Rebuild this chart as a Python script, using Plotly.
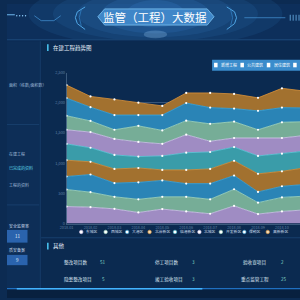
import plotly.graph_objects as go

# ---------------- data ----------------
months = ["2018.01", "2018.02", "2018.03", "2018.04", "2018.05", "2018.06",
          "2018.07", "2018.08", "2018.09", "2018.10", "2018.11"]
series_names = ["东城区", "西城区", "大港区", "北岸新区", "临港新区",
                "北城区", "开发新区", "保税区", "高新新区"]
s1 = [281, 271, 243, 183, 239, 200, 162, 292, 157, 200, 227]
s2 = [282, 248, 200, 218, 204, 243, 239, 276, 189, 233, 227]
s3 = [216, 293, 227, 281, 271, 218, 260, 227, 178, 184, 195]
s4 = [270, 210, 234, 238, 174, 227, 243, 244, 299, 248, 276]
s5 = [270, 233, 232, 189, 232, 285, 281, 227, 297, 292, 276]
s6 = [234, 259, 265, 243, 200, 299, 178, 151, 297, 260, 260]
s7 = [232, 185, 152, 266, 222, 232, 288, 271, 136, 260, 227]
s8 = [293, 228, 244, 179, 255, 292, 269, 216, 313, 243, 227]
s9 = [215, 178, 259, 204, 151, 167, 243, 243, 216, 320, 276]
all_series = [s1, s2, s3, s4, s5, s6, s7, s8, s9]
y_ticks = [0, 500, 1000, 1500, 2000, 2500]
top_legend = ["新增工程", "公共建筑", "居住建筑"]
stat_labels = ["整改项目数", "停工项目数", "验收查项目", "隐患整改项目", "竣工验收项目", "重点监管工程"]
stat_values = ["51", "3", "2", "5", "3", "25"]

# ---------------- styles ----------------
FONT = "Noto Sans CJK SC"
fills = ["#9f8cc3", "#76ad97", "#2a84b6", "#a2712f", "#3a9ca9",
         "#9f8cc3", "#76ad97", "#2a84b6", "#a2712f"]
lines = ["#d6c8ee", "#a6dcc2", "#3ca8de", "#dc933a", "#5ccfdc",
         "#d6c8ee", "#a6dcc2", "#3ca8de", "#dc933a"]

W = H = 300


def px(x):
    return x / W


def py(y):
    return 1 - y / H


fig = go.Figure()
for name, vals, fc, lc in zip(series_names, all_series, fills, lines):
    fig.add_trace(go.Scatter(
        x=months, y=vals, name=name, stackgroup="one", mode="lines+markers",
        line=dict(color=lc, width=0.8), fillcolor=fc,
        marker=dict(color="white", size=2.2), showlegend=False,
        hoverinfo="skip"))

shapes = []
annotations = []


def rect(x0, y0, x1, y1, fill, line=None, lw=0, opacity=1.0, layer="below"):
    shapes.append(dict(type="rect", xref="paper", yref="paper",
                       x0=px(x0), x1=px(x1), y0=py(y1), y1=py(y0),
                       fillcolor=fill, line=dict(color=line or fill, width=lw),
                       opacity=opacity, layer=layer))


def hline(x0, x1, y, color, w=1, layer="below"):
    shapes.append(dict(type="line", xref="paper", yref="paper", x0=px(x0), x1=px(x1),
                       y0=py(y), y1=py(y), line=dict(color=color, width=w), layer=layer))


def vline(x, y0, y1, color, w=1, layer="below"):
    shapes.append(dict(type="line", xref="paper", yref="paper", x0=px(x), x1=px(x),
                       y0=py(y0), y1=py(y1), line=dict(color=color, width=w), layer=layer))


def path(pts, fill=None, color="rgba(0,0,0,0)", w=1, closed=True, opacity=1.0, layer="below"):
    s = "M " + " L ".join(f"{px(x):.5f},{py(y):.5f}" for x, y in pts)
    if closed:
        s += " Z"
    shapes.append(dict(type="path", xref="paper", yref="paper", path=s,
                       fillcolor=fill if fill else "rgba(0,0,0,0)",
                       line=dict(color=color, width=w), opacity=opacity, layer=layer))


def ellipse(cx, cy, rx, ry, fill, opacity=1.0, layer="below"):
    shapes.append(dict(type="circle", xref="paper", yref="paper",
                       x0=px(cx - rx), x1=px(cx + rx), y0=py(cy + ry), y1=py(cy - ry),
                       fillcolor=fill, line=dict(width=0), opacity=opacity, layer=layer))


def text(x, y, s, size=5, color="#d8e4f0", xanchor="left"):
    annotations.append(dict(xref="paper", yref="paper", x=px(x), y=py(y), text=s,
                            showarrow=False, xanchor=xanchor, yanchor="middle",
                            font=dict(family=FONT, size=size, color=color)))


# ---- background panels ----
rect(0, 0, 300, 36, "#0d2f5b")
for rx, ry, op in [(130, 34, 0.10), (105, 28, 0.10), (80, 24, 0.12), (55, 20, 0.14), (30, 14, 0.16)]:
    ellipse(152, 10, rx, ry, "#3f8fe0", opacity=op)
ellipse(152, 31, 12, 4, "#a8d8ff", opacity=0.25)
rect(0, 36, 300, 300, "#0c2b52")
rect(0, 38, 33, 290, "#0d2e57")
rect(35, 38, 300, 237, "#0b2a50")
rect(35, 240, 300, 290, "#0b2a50")
rect(0, 291, 300, 300, "#08203f")
hline(0, 300, 36.5, "#1c4a7c", 1)
vline(34, 38, 290, "#173e6b", 1)
hline(0, 33, 123, "#173e6b", 1)
hline(0, 33, 205, "#173e6b", 1)
hline(35, 300, 238.5, "#173e6b", 1)
hline(0, 300, 290.5, "#1f6fc0", 1.2)
hline(10, 200, 290.5, "#43b4ff", 1.5)

# ---- header decorations ----
path([(93, 13), (100, 5), (205, 5), (212, 13), (205, 21.5), (100, 21.5)],
     fill="#3f86c8", color="#7cc4f4", w=0.8)
path([(80, 3), (72, 8), (70, 14), (72, 20), (80, 26)], color="#4fa6e6", w=1, closed=False)
path([(76, 6), (74, 14), (76, 22)], color="#2f7cc0", w=0.8, closed=False)
path([(225, 3), (233, 8), (235, 14), (233, 20), (225, 26)], color="#4fa6e6", w=1, closed=False)
path([(229, 6), (231, 14), (229, 22)], color="#2f7cc0", w=0.8, closed=False)
path([(0, 11), (8, 11)], color="#6fb8ee", w=1, closed=False)
path([(28, 12), (35, 17), (48, 17), (55, 12)], color="#3f8ccc", w=0.8, closed=False)
path([(243, 14), (285, 14)], color="#3f8ccc", w=0.8, closed=False)
for x in [10, 13, 16, 19]:
    ellipse(x, 12, 0.7, 0.7, "#8fd0ff")
for x in [290, 293, 296, 299]:
    vline(x, 11, 17, "#6fb8ee", 0.8)
text(152, 13.5, "监管（工程）大数据", size=11.5, color="#ffffff", xanchor="center")

# ---- main panel titles ----
rect(41, 41, 42.6, 48, "#49c4f0")
text(45, 44.8, "在建工程趋势图", size=5.5, color="#e6f0fa")
rect(210, 57, 300, 68, "#3a8ccc", layer="above")
for i in range(4):
    x0 = 212 + i * 27
    rect(x0, 60, x0 + 3.6, 64.6, "#ffffff", layer="above")
for i, lab in enumerate(top_legend):
    x0 = 212 + i * 27
    text(x0 + 5, 62.3, lab, size=4, color="#ffffff")

# ---- bottom legend ----
leg_x = [76, 101, 123, 146, 172, 197, 219, 243, 267]
for i, (name, lc) in enumerate(zip(series_names, lines)):
    cx = leg_x[i]
    shapes.append(dict(type="circle", xref="paper", yref="paper",
                       x0=px(cx - 1.8), x1=px(cx + 1.8), y0=py(232.6 + 1.8), y1=py(232.6 - 1.8),
                       fillcolor="#ffffff" if i not in (3, 8) else "#f6dcb4",
                       line=dict(color=lc, width=0.6)))
    text(cx + 3, 232.6, name, size=3.8, color="#c8d8ea")

# ---- left panel ----
text(0, 82.7, "面积（栋数/面积数）", size=4, color="#9db8d6")
text(0, 152.7, "在建工程", size=4, color="#9db8d6")
text(0, 167.5, "已完成的资料", size=4, color="#5fd3e8")
text(0, 185, "工程的资料", size=4, color="#9db8d6")
text(0.5, 226.5, "安全监督率", size=4, color="#c8d8ea")
rect(0, 230.5, 21, 243.5, "#2a63ad")
text(10.5, 237, "11", size=4.5, color="#e6f0fa", xanchor="center")
text(0.5, 251.5, "质安备案", size=4, color="#c8d8ea")
rect(0, 256, 21, 266.5, "#2a63ad")
text(10.5, 261.3, "9", size=4.5, color="#e6f0fa", xanchor="center")

# ---- bottom "其他" panel ----
rect(41, 243.5, 42.6, 250.5, "#49c4f0")
text(45, 247, "其他", size=5.5, color="#e6f0fa")
stat_pos = [(56.5, 98, 263.3), (149, 190.5, 263.3), (240, 282.5, 263.3),
            (56.5, 99, 280.7), (149, 190.5, 280.7), (238, 284, 280.7)]
for (lx, vx, yy), lab, val in zip(stat_pos, stat_labels, stat_values):
    text(lx, yy, lab, size=4.6, color="#dbe6f2")
    text(vx, yy, val, size=4.6, color="#7fd4c0", xanchor="center")

fig.update_layout(
    width=W, height=H, margin=dict(l=0, r=0, t=0, b=0),
    paper_bgcolor="#0c2b52", plot_bgcolor="rgba(0,0,0,0)",
    shapes=shapes, annotations=annotations, showlegend=False,
    xaxis=dict(domain=[px(61), 1], range=[0, 9.755], type="category",
               tickfont=dict(family=FONT, size=3.8, color="#5f80a4"),
               showgrid=False, showline=True, linecolor="rgba(150,180,210,0.35)",
               linewidth=0.6, ticks="", zeroline=False, fixedrange=True),
    yaxis=dict(domain=[py(224), py(70)], range=[0, 2500], tickvals=y_ticks,
               tickformat=",", tickfont=dict(family=FONT, size=3.9, color="#5f80a4"),
               showgrid=True, gridcolor="rgba(170,195,225,0.28)", gridwidth=0.6,
               showline=True, linecolor="rgba(150,180,210,0.35)", linewidth=0.6,
               ticks="", zeroline=False, fixedrange=True),
)

fig.write_html("out.html")
